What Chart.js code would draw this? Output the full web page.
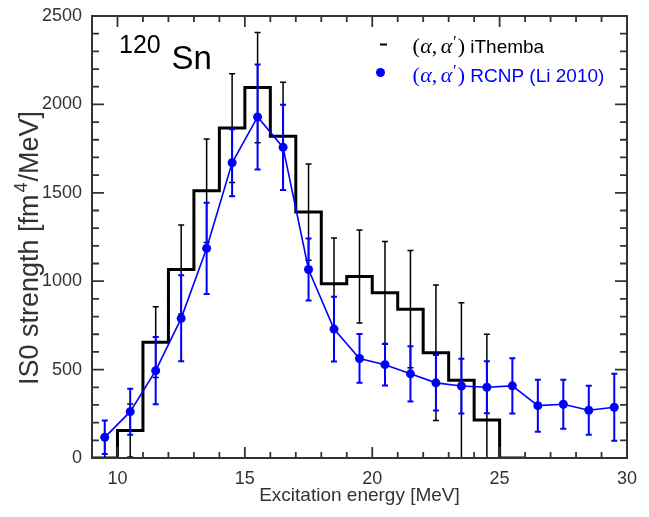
<!DOCTYPE html>
<html>
<head>
<meta charset="utf-8">
<script src="https://cdn.jsdelivr.net/npm/chart.js@4.4.1/dist/chart.umd.min.js"></script>
<style>
  html, body { margin: 0; padding: 0; background: #fff; }
  #wrap { width: 649px; height: 517px; }
</style>
</head>
<body>
<div id="wrap"><canvas id="chart" width="649" height="517"></canvas></div>
<script>
// ─── Data ────────────────────────────────────────────────────────────────────
// iThemba histogram: 1 MeV bins, left edges 9..25 (last edge closes the last bin)
const BIN_EDGES = [9, 10, 11, 12, 13, 14, 15, 16, 17, 18, 19, 20, 21, 22, 23, 24, 25, 26];
const ITHEMBA_VALUES = [0, 155, 655, 1066, 1512, 1866, 2095, 1820, 1391, 985, 1027, 934, 842, 595, 440, 215, 0];
const ITHEMBA_ERRORS = [110, 150, 200, 252, 293, 308, 312, 305, 272, 260, 263, 290, 332, 383, 438, 485, null];

// RCNP (Li 2010) points
const RCNP_ENERGY = [9.5, 10.5, 11.5, 12.5, 13.5, 14.5, 15.5, 16.5, 17.5, 18.5, 19.5,
                     20.5, 21.5, 22.5, 23.5, 24.5, 25.5, 26.5, 27.5, 28.5, 29.5];
const RCNP_VALUES = [117, 262, 494, 790, 1186, 1670, 1929, 1757, 1066, 729, 563,
                     528, 476, 425, 407, 400, 408, 296, 304, 270, 287];
const RCNP_ERRORS = [95, 130, 190, 243, 258, 190, 297, 241, 175, 183, 138,
                     118, 156, 157, 155, 147, 156, 147, 139, 138, 190];

const X_MIN = 9, X_MAX = 30;
const Y_MIN = 0, Y_MAX = 2500;
const X_TICKS = [10, 15, 20, 25, 30];
const X_MINOR_TICKS = [9, 11, 12, 13, 14, 16, 17, 18, 19, 21, 22, 23, 24, 26, 27, 28, 29];
const Y_TICKS = [0, 500, 1000, 1500, 2000, 2500];
const Y_MINOR_TICKS = [100, 200, 300, 400, 600, 700, 800, 900, 1100, 1200, 1300, 1400,
                       1600, 1700, 1800, 1900, 2100, 2200, 2300, 2400];

const AXIS_COLOR = '#333';
const BLUE = '#0000ff';
const SANS = '"Liberation Sans", Arial, sans-serif';
const SERIF = '"Liberation Serif", "DejaVu Serif", serif';

// ─── Plugins ─────────────────────────────────────────────────────────────────
// frame + inward ticks on all four sides
function drawFrame(chart) {
  const ctx = chart.ctx, a = chart.chartArea;
  const xs = chart.scales.x, ys = chart.scales.y;
  const L = Math.round(a.left), R = Math.round(a.right);
  const T = Math.round(a.top), B = Math.round(a.bottom);
  ctx.save();
  ctx.globalAlpha = 1;
  ctx.globalCompositeOperation = 'source-over';
  ctx.setLineDash([]);
  ctx.strokeStyle = AXIS_COLOR;
  ctx.lineWidth = 1.8;
  const xt = (vals, len) => vals.forEach(e => {
    const px = xs.getPixelForValue(e);
    ctx.beginPath();
    ctx.moveTo(px, B); ctx.lineTo(px, B - len);
    ctx.moveTo(px, T); ctx.lineTo(px, T + len);
    ctx.stroke();
  });
  const yt = (vals, len) => vals.forEach(v => {
    const py = ys.getPixelForValue(v);
    ctx.beginPath();
    ctx.moveTo(L, py); ctx.lineTo(L + len, py);
    ctx.moveTo(R, py); ctx.lineTo(R - len, py);
    ctx.stroke();
  });
  xt(X_TICKS, 11); xt(X_MINOR_TICKS, 6);
  yt(Y_TICKS, 12); yt(Y_MINOR_TICKS, 7);
  ctx.fillStyle = AXIS_COLOR;
  ctx.fillRect(L - 1, T - 1, R - L + 2, 2);
  ctx.fillRect(L - 1, B - 1, R - L + 2, 2);
  ctx.fillRect(L - 1, T - 1, 2, B - T + 2);
  ctx.fillRect(R - 1, T - 1, 2, B - T + 2);
  ctx.restore();
}

const frameTicks = {
  id: 'frameTicks',
  afterDatasetsDraw(chart) { drawFrame(chart); }
};

// vertical error bars with caps, drawn just before their dataset
const errorBars = {
  id: 'errorBars',
  beforeDatasetDraw(chart, args) {
    const ds = chart.data.datasets[args.index];
    if (!ds.errors) return;
    const { ctx, chartArea: a, scales: { x, y } } = chart;
    ctx.save();
    ctx.beginPath();
    ctx.rect(a.left, a.top, a.width, a.height);
    ctx.clip();
    ctx.strokeStyle = ds.errorColor;
    ctx.lineWidth = ds.errorWidth;
    ctx.beginPath();
    ds.data.forEach((p, i) => {
      const err = ds.errors[i];
      if (err == null) return;
      const px = x.getPixelForValue(p.x);
      const top = y.getPixelForValue(p.y + err);
      const bot = y.getPixelForValue(p.y - err);
      ctx.moveTo(px, top); ctx.lineTo(px, bot);
      ctx.moveTo(px - 3, top); ctx.lineTo(px + 3, top);
      ctx.moveTo(px - 3, bot); ctx.lineTo(px + 3, bot);
    });
    ctx.stroke();
    ctx.restore();
  }
};

// math-ish "(α,α′)" label
function drawAlphaPair(ctx, x0, base, color) {
  ctx.fillStyle = color;
  let x = x0;
  const put = (txt, font, dx = 0) => {
    ctx.font = font;
    ctx.fillText(txt, x, base);
    x += ctx.measureText(txt).width + dx;
  };
  const up = '22px ' + SERIF, it = 'italic 22px ' + SERIF;
  put('(', up, 0.5);
  put('α', it, 0);
  put(',', up, 3.5);
  put('α', it, 0.5);
  ctx.font = '17px ' + SERIF;
  ctx.fillText('′', x, base - 6);
  x += ctx.measureText('′').width + 1;
  put(')', up);
  return x;
}

const annotations = {
  id: 'annotations',
  afterDraw(chart) {
    const { ctx, chartArea: a } = chart;
    ctx.save();
    ctx.textBaseline = 'alphabetic';
    ctx.textAlign = 'left';

    // nucleus label
    ctx.fillStyle = '#000';
    ctx.font = '25px ' + SANS;
    ctx.fillText('120', 119, 53);
    ctx.font = '33px ' + SANS;
    ctx.fillText('Sn', 171.5, 69);

    // legend
    ctx.strokeStyle = '#000';
    ctx.lineWidth = 2;
    ctx.beginPath(); ctx.moveTo(380, 44.5); ctx.lineTo(387, 44.5); ctx.stroke();
    let ex = drawAlphaPair(ctx, 412.5, 53, '#000');
    ctx.font = '19px ' + SANS;
    ctx.fillStyle = '#000';
    ctx.fillText(' iThemba', ex, 53);

    ctx.fillStyle = BLUE;
    ctx.beginPath(); ctx.arc(380.5, 72.5, 4.5, 0, Math.PI * 2); ctx.fill();
    ex = drawAlphaPair(ctx, 412.5, 81.5, BLUE);
    ctx.font = '19px ' + SANS;
    ctx.fillStyle = BLUE;
    ctx.fillText(' RCNP (Li 2010)', ex, 81.5);

    // axis titles
    ctx.fillStyle = AXIS_COLOR;
    ctx.font = '19px ' + SANS;
    ctx.textAlign = 'center';
    ctx.fillText('Excitation energy [MeV]', (a.left + a.right) / 2, 501);

    ctx.translate(38, 248);
    ctx.rotate(-Math.PI / 2);
    const main1 = 'IS0 strength [fm', sup = '4', main2 = '/MeV]';
    const big = '27px ' + SANS, small = '18px ' + SANS;
    ctx.font = big;
    const w1 = ctx.measureText(main1).width, w3 = ctx.measureText(main2).width;
    ctx.font = small;
    const w2 = ctx.measureText(sup).width + 3;
    let sx = -(w1 + w2 + w3) / 2;
    ctx.textAlign = 'left';
    ctx.font = big;
    ctx.fillText(main1, sx, 0); sx += w1 + 2;
    ctx.font = small;
    ctx.fillText(sup, sx, -11); sx += w2 - 2;
    ctx.font = big;
    ctx.fillText(main2, sx, 0);
    ctx.restore();
  }
};

// ─── Chart ───────────────────────────────────────────────────────────────────
const histData = BIN_EDGES.map((e, i) => ({ x: e, y: ITHEMBA_VALUES[Math.min(i, ITHEMBA_VALUES.length - 1)] }));
const ithembaPoints = ITHEMBA_VALUES.map((v, i) => ({ x: BIN_EDGES[i] + 0.5, y: v }));
const rcnpPoints = RCNP_ENERGY.map((e, i) => ({ x: e, y: RCNP_VALUES[i] }));

new Chart(document.getElementById('chart'), {
  type: 'line',
  data: {
    datasets: [
      {
        label: 'iThemba histogram',
        data: histData,
        stepped: 'before',
        borderColor: '#000',
        borderWidth: 3,
        pointRadius: 0,
        fill: false,
        order: 3,
      },
      {
        label: '(α,α′) iThemba',
        data: ithembaPoints,
        errors: ITHEMBA_ERRORS,
        errorColor: '#000',
        errorWidth: 1.5,
        showLine: false,
        pointRadius: 0,
        order: 2,
      },
      {
        label: '(α,α′) RCNP (Li 2010)',
        data: rcnpPoints,
        errors: RCNP_ERRORS,
        errorColor: BLUE,
        errorWidth: 2,
        borderColor: BLUE,
        backgroundColor: BLUE,
        borderWidth: 1.6,
        pointRadius: 4.5,
        pointBorderWidth: 0,
        pointBackgroundColor: BLUE,
        tension: 0,
        order: 1,
      },
    ]
  },
  options: {
    responsive: false,
    animation: false,
    devicePixelRatio: 1,
    layout: { padding: { left: 0, top: 16, right: 22, bottom: 0 } },
    plugins: { legend: { display: false }, tooltip: { enabled: false } },
    scales: {
      x: {
        type: 'linear',
        min: X_MIN, max: X_MAX,
        grid: { display: false, drawTicks: false },
        border: { display: false },
        afterBuildTicks: s => { s.ticks = X_TICKS.map(v => ({ value: v })); },
        afterFit: s => { s.height = 59; s.paddingLeft = 0; s.paddingRight = 0; },
        ticks: { color: AXIS_COLOR, font: { family: SANS, size: 18 }, padding: 10,
                 maxRotation: 0, autoSkip: false, callback: v => String(v) },
      },
      y: {
        type: 'linear',
        min: Y_MIN, max: Y_MAX,
        grid: { display: false, drawTicks: false },
        border: { display: false },
        afterBuildTicks: s => { s.ticks = Y_TICKS.map(v => ({ value: v })); },
        afterFit: s => { s.width = 92; s.paddingTop = 0; s.paddingBottom = 0; },
        ticks: { color: AXIS_COLOR, font: { family: SANS, size: 18 }, padding: 10,
                 callback: v => String(v) },
      }
    }
  },
  plugins: [frameTicks, errorBars, annotations]
});
</script>
</body>
</html>
